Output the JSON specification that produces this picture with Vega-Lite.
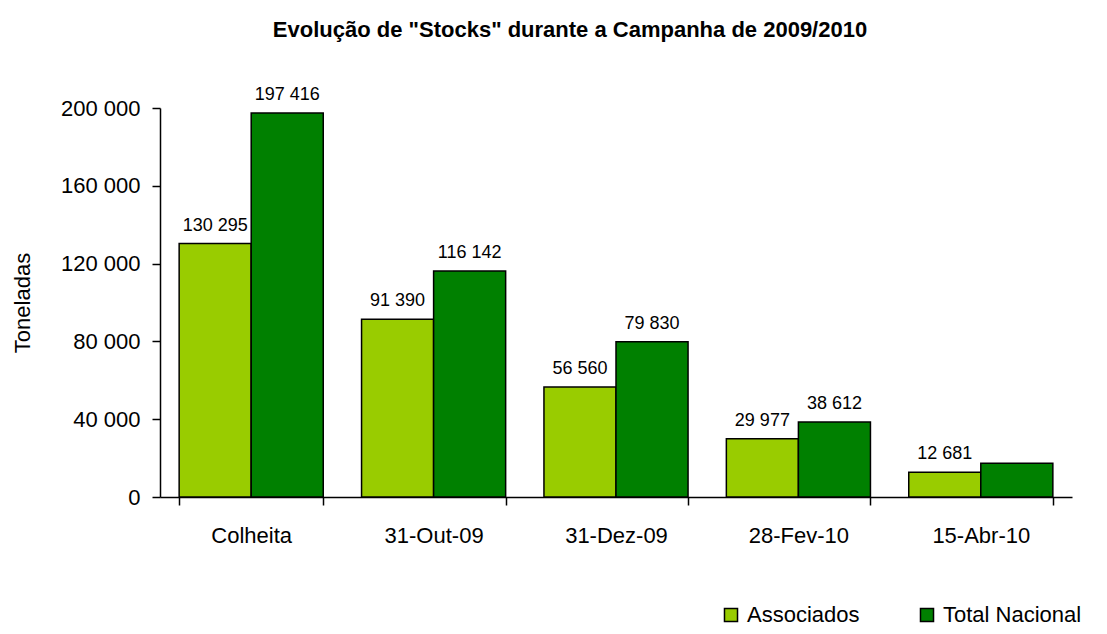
{
  "$schema": "https://vega.github.io/schema/vega-lite/v6.json",
  "autosize": {"type": "none"},
  "padding": {"left": 160, "top": 108, "right": 35, "bottom": 137},
  "width": 912,
  "height": 389,
  "background": "white",
  "config": {
    "locale": {"number": {"decimal": ",", "thousands": " ", "grouping": [3], "currency": ["", " €"]}},
    "font": "Liberation Sans",
    "view": {"stroke": null}
  },
  "title": {
    "text": "Evolução de \"Stocks\" durante a Campanha de 2009/2010",
    "fontSize": 22,
    "fontWeight": "bold",
    "font": "Liberation Sans",
    "color": "black",
    "anchor": "middle",
    "dx": -46,
    "offset": 44
  },
  "data": {
    "values": [
      {"data": "Colheita", "serie": "Associados", "valor": 130295, "rotulo": 130295},
      {"data": "Colheita", "serie": "Total Nacional", "valor": 197416, "rotulo": 197416},
      {"data": "31-Out-09", "serie": "Associados", "valor": 91390, "rotulo": 91390},
      {"data": "31-Out-09", "serie": "Total Nacional", "valor": 116142, "rotulo": 116142},
      {"data": "31-Dez-09", "serie": "Associados", "valor": 56560, "rotulo": 56560},
      {"data": "31-Dez-09", "serie": "Total Nacional", "valor": 79830, "rotulo": 79830},
      {"data": "28-Fev-10", "serie": "Associados", "valor": 29977, "rotulo": 29977},
      {"data": "28-Fev-10", "serie": "Total Nacional", "valor": 38612, "rotulo": 38612},
      {"data": "15-Abr-10", "serie": "Associados", "valor": 12681, "rotulo": 12681},
      {"data": "15-Abr-10", "serie": "Total Nacional", "valor": 17300, "rotulo": null}
    ]
  },
  "encoding": {
    "x": {
      "field": "data", "type": "nominal", "sort": null,
      "scale": {"paddingInner": 0.21, "paddingOuter": 0.105},
      "axis": {
        "title": null, "labelAngle": 0, "labelFontSize": 22, "labelColor": "black",
        "labelPadding": 20, "domainColor": "black", "domainWidth": 1.5,
        "tickColor": "black", "tickWidth": 1.5, "tickSize": 8, "tickBand": "extent"
      }
    },
    "xOffset": {"field": "serie", "type": "nominal", "sort": ["Associados", "Total Nacional"]},
    "y": {
      "field": "valor", "type": "quantitative",
      "scale": {"domain": [0, 200000], "nice": false},
      "axis": {
        "title": "Toneladas", "titleFontSize": 22, "titleFontWeight": "normal", "titleColor": "black",
        "titlePadding": 26,
        "values": [0, 40000, 80000, 120000, 160000, 200000], "format": ",d",
        "labelFontSize": 22, "labelColor": "black", "labelPadding": 12,
        "grid": false, "domainColor": "black", "domainWidth": 1.5,
        "tickColor": "black", "tickWidth": 1.5, "tickSize": 8
      }
    }
  },
  "layer": [
    {
      "mark": {"type": "bar", "stroke": "black", "strokeWidth": 1.5},
      "encoding": {
        "color": {
          "field": "serie", "type": "nominal",
          "scale": {"domain": ["Associados", "Total Nacional"], "range": ["#99cc00", "#008000"]},
          "legend": {
            "title": null, "orient": "none", "direction": "horizontal",
            "legendX": 560, "legendY": 496,
            "symbolType": "square", "symbolSize": 170, "symbolStrokeColor": "black",
            "symbolStrokeWidth": 1.5, "symbolOpacity": 1,
            "labelFontSize": 22, "labelColor": "black", "labelOffset": 5,
            "columnPadding": 56
          }
        }
      }
    },
    {
      "transform": [{"filter": "isValid(datum.rotulo)"}],
      "mark": {"type": "text", "baseline": "bottom", "dy": -9, "fontSize": 18, "color": "black"},
      "encoding": {
        "text": {"field": "rotulo", "type": "quantitative", "format": ",d"}
      }
    }
  ]
}
